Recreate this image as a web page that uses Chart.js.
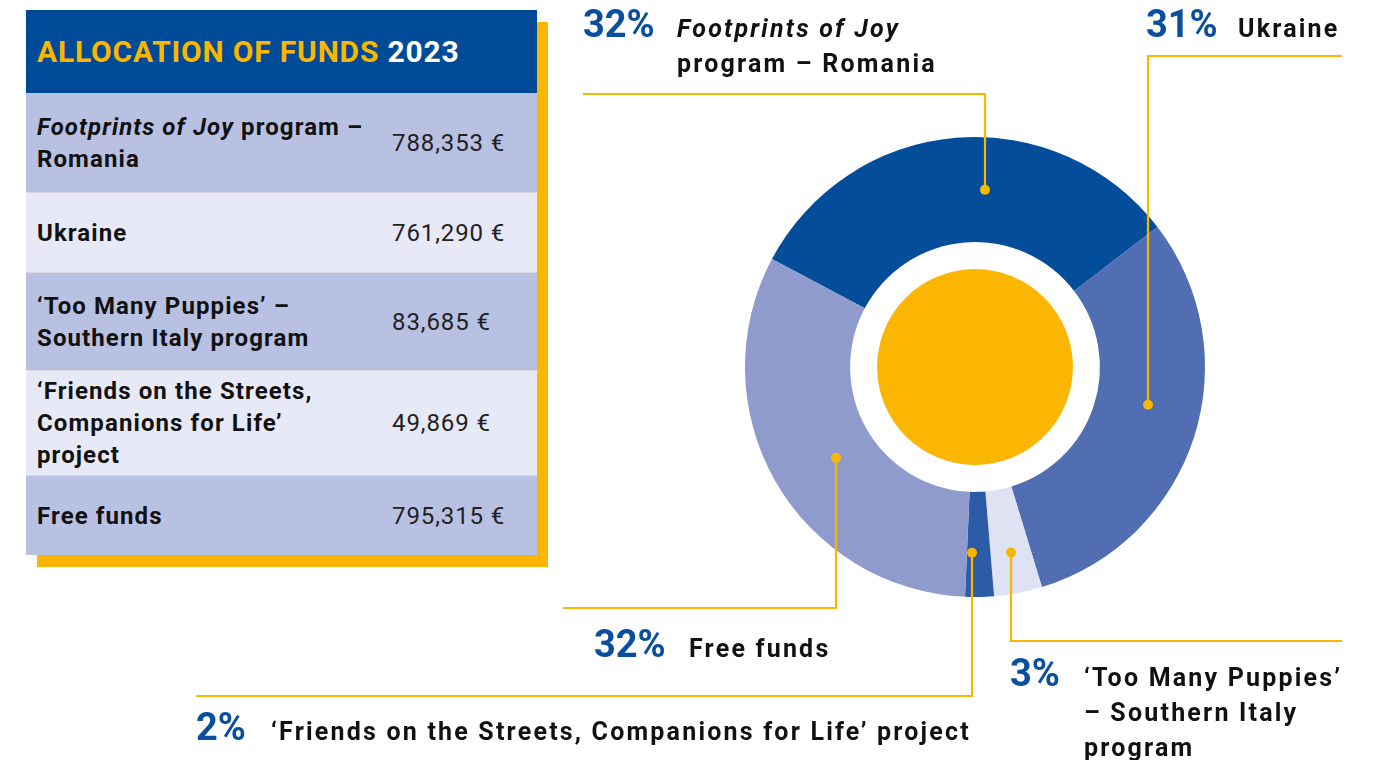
<!DOCTYPE html>
<html>
<head>
<meta charset="utf-8">
<script src="https://cdn.jsdelivr.net/npm/chart.js@4.4.1/dist/chart.umd.min.js"></script>
<style>
  html, body { margin: 0; padding: 0; background: #fff; }
  body { width: 1374px; height: 760px; position: relative; overflow: hidden; font-family: Roboto, "DejaVu Sans", sans-serif; }
  #chart { position: absolute; left: 0; top: 0; }
  #funds { position: absolute; left: 26px; top: 10px; width: 511px; box-shadow: 11px 12px 0 #fab600; }
  #funds .head { height: 83px; background: #004b97; display: flex; align-items: center; padding-left: 11px;
                 font-size: 30px; font-weight: 700; letter-spacing: 0.8px; color: #fab600; }
  #funds .head span { color: #fff; }
  #funds .row { display: flex; align-items: center; box-sizing: border-box; border-top: 1px solid #d9d6dc; }
  #funds .row.dark { background: #b9c1e3; }
  #funds .row.light { background: #e7e9f6; }
  #funds .lbl { width: 355px; padding-left: 11px; font-size: 24px; font-weight: 700; line-height: 32px; color: #111; letter-spacing: 1.1px; white-space: nowrap; }
  #funds .val { font-size: 24px; color: #222; letter-spacing: 0.9px; }
</style>
</head>
<body>
<div id="funds"></div>
<canvas id="chart" width="1374" height="760"></canvas>
<script>
// 데이터
const categories = [
  "Footprints of Joy program – Romania",
  "Ukraine",
  "‘Too Many Puppies’ – Southern Italy program",
  "‘Friends on the Streets, Companions for Life’ project",
  "Free funds"
];
const amounts = [788353, 761290, 83685, 49869, 795315];
const amountLabels = ["788,353 €", "761,290 €", "83,685 €", "49,869 €", "795,315 €"];
const sliceColors = ["#034d9a", "#506eb1", "#dfe2f3", "#2d5ca7", "#8e9bcc"];

// 표에 쓰는 줄바꿈 (첫 줄의 앞부분은 기울임)
const tableLines = [
  [["Footprints of Joy", " program –"], ["", "Romania"]],
  [["", "Ukraine"]],
  [["", "‘Too Many Puppies’ –"], ["", "Southern Italy program"]],
  [["", "‘Friends on the Streets,"], ["", "Companions for Life’"], ["", "project"]],
  [["", "Free funds"]]
];
const rowHeights = [99, 80, 98, 105, 80];

// 도넛 라벨 줄바꿈
const chartLines = [
  [["Footprints of Joy", ""], ["", "program – Romania"]],
  [["", "Ukraine"]],
  [["", "‘Too Many Puppies’"], ["", "– Southern Italy"], ["", "program"]],
  [["", "‘Friends on the Streets, Companions for Life’ project"]],
  [["", "Free funds"]]
];

const YELLOW = "#fab600";
const total = amounts.reduce((a, b) => a + b, 0);
const percents = amounts.map(v => Math.round(v / total * 100) + "%");

// 표 만들기
const box = document.getElementById("funds");
let html = '<div class="head">ALLOCATION OF FUNDS&nbsp;<span>2023</span></div>';
tableLines.forEach((lines, i) => {
  const text = lines.map(l => (l[0] ? "<i>" + l[0] + "</i>" : "") + l[1]).join("<br>");
  html += '<div class="row ' + (i % 2 === 0 ? "dark" : "light") + '" style="height:' + rowHeights[i] + 'px' +
          (i === 0 ? ';border-top:none' : '') + '">' +
          '<div class="lbl">' + text + '</div><div class="val">' + amountLabels[i] + '</div></div>';
});
box.innerHTML = html;

// 라벨 위치 (지시선 꺾이는 곳, 글자 위치)
const callouts = [
  { frac: 0.57, t: 0.50, elbowY: 94,  endX: 583,  pctX: 583,  textX: 677,  baseY: 37 },
  { frac: 0.45, t: 0.50, elbowY: 56,  endX: 1342, pctX: 1146, textX: 1238, baseY: 37 },
  { frac: 0.48, t: 0.61, elbowY: 641, endX: 1342, pctX: 1010, textX: 1084, baseY: 686 },
  { frac: 0.79, t: 0.58, elbowY: 696, endX: 196,  pctX: 196,  textX: 271,  baseY: 740 },
  { frac: 0.47, t: 0.39, elbowY: 608, endX: 563,  pctX: 594,  textX: 689,  baseY: 657 }
];

const calloutPlugin = {
  id: "callouts",
  afterDatasetsDraw(chart) {
    const ctx = chart.ctx;
    const arcs = chart.getDatasetMeta(0).data;
    const c = arcs[0].getProps(["x", "y", "innerRadius"], true);

    // 가운데 노란 원
    ctx.save();
    ctx.fillStyle = YELLOW;
    ctx.beginPath();
    ctx.arc(c.x, c.y, c.innerRadius * 0.784, 0, Math.PI * 2);
    ctx.fill();

    arcs.forEach((arc, i) => {
      const p = arc.getProps(["x", "y", "startAngle", "endAngle", "innerRadius", "outerRadius"], true);
      const co = callouts[i];
      const a = p.startAngle + co.frac * (p.endAngle - p.startAngle);
      const r = p.innerRadius + co.t * (p.outerRadius - p.innerRadius);
      const dx = Math.round(p.x + r * Math.cos(a));
      const dy = p.y + r * Math.sin(a);

      ctx.strokeStyle = YELLOW;
      ctx.lineWidth = 2.2;
      ctx.beginPath();
      ctx.moveTo(dx, dy);
      ctx.lineTo(dx, co.elbowY);
      ctx.lineTo(co.endX, co.elbowY);
      ctx.stroke();

      ctx.fillStyle = YELLOW;
      ctx.beginPath();
      ctx.arc(dx, dy, 5, 0, Math.PI * 2);
      ctx.fill();

      // 퍼센트
      ctx.textBaseline = "alphabetic";
      ctx.textAlign = "left";
      ctx.letterSpacing = "0px";
      ctx.fillStyle = "#0a4f9e";
      ctx.font = "700 38px Roboto";
      ctx.fillText(percents[i], co.pctX, co.baseY);

      // 이름
      ctx.fillStyle = "#111";
      ctx.letterSpacing = "2.2px";
      chartLines[i].forEach((line, k) => {
        const y = co.baseY + k * 35;
        let x = co.textX;
        if (line[0]) {
          ctx.font = "italic 700 25px Roboto";
          ctx.fillText(line[0], x, y);
          x += ctx.measureText(line[0]).width;
        }
        if (line[1]) {
          ctx.font = "700 25px Roboto";
          ctx.fillText(line[1], x, y);
        }
      });
    });
    ctx.restore();
  }
};

new Chart(document.getElementById("chart").getContext("2d"), {
  type: "doughnut",
  data: {
    labels: categories,
    datasets: [{
      data: amounts,
      backgroundColor: sliceColors,
      borderWidth: 0,
      hoverOffset: 0,
      offset: 0
    }]
  },
  options: {
    responsive: false,
    animation: false,
    rotation: -62,
    cutout: "54.3%",
    layout: { padding: { left: 745, right: 169, top: 137, bottom: 163 } },
    plugins: {
      legend: { display: false },
      tooltip: { enabled: false }
    },
    events: []
  },
  plugins: [calloutPlugin]
});
</script>
</body>
</html>
